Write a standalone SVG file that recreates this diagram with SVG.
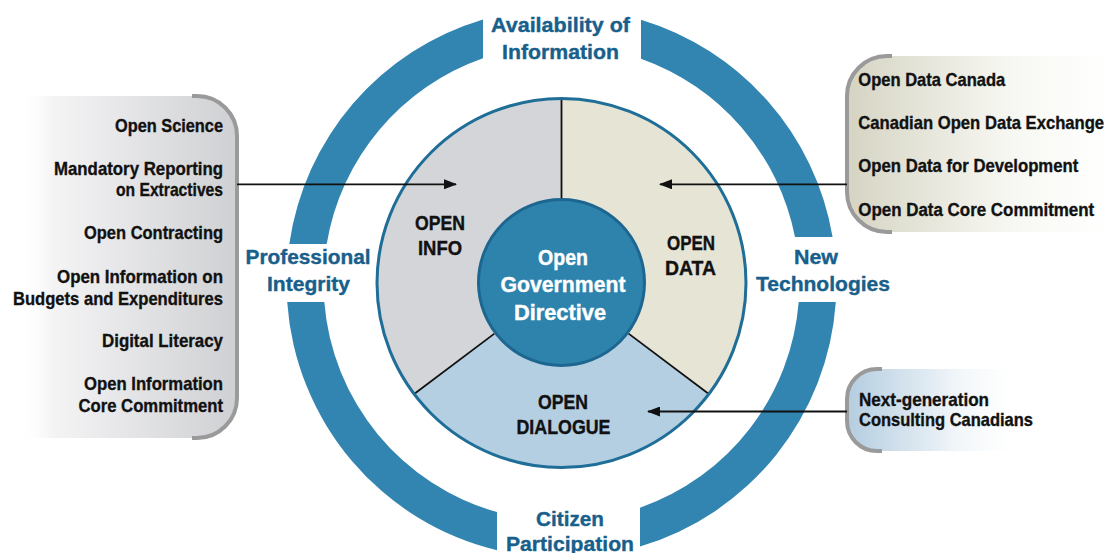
<svg xmlns="http://www.w3.org/2000/svg" width="1107" height="553" viewBox="0 0 1107 553">
<style>
.t{font-family:"Liberation Sans Narrow","Arial Narrow","Liberation Sans",Arial,sans-serif;font-weight:bold}
.ring{fill:#3285b0}
.rl{fill:#185f8b;font-size:21px;text-anchor:middle;stroke:#185f8b;stroke-width:0.4}
.pl{fill:#111;font-size:21px;text-anchor:middle;stroke:#111;stroke-width:0.4}
.cl{fill:#fff;font-size:21.5px;text-anchor:middle;stroke:#fff;stroke-width:0.4}
.lt{fill:#111;font-size:18.5px;text-anchor:end;stroke:#111;stroke-width:0.35}
.rt{fill:#111;font-size:18.5px;stroke:#111;stroke-width:0.35}
.brk{fill:none;stroke:#9a9a9a;stroke-width:4}
.con{stroke:#111;stroke-width:1.8;fill:none}
.div{stroke:#111;stroke-width:1.8}
</style>
<defs>
<linearGradient id="gL" x1="0" y1="0" x2="1" y2="0">
<stop offset="0" stop-color="#ffffff" stop-opacity="0"/>
<stop offset="0.15" stop-color="#f4f4f5"/>
<stop offset="1" stop-color="#cfd0d3"/>
</linearGradient>
<linearGradient id="gR" x1="0" y1="0" x2="1" y2="0">
<stop offset="0" stop-color="#d5d4c3"/>
<stop offset="0.6" stop-color="#f6f6f1"/>
<stop offset="1" stop-color="#ffffff"/>
</linearGradient>
<linearGradient id="gB" x1="0" y1="0" x2="1" y2="0">
<stop offset="0" stop-color="#b4cde0"/>
<stop offset="0.7" stop-color="#f3f7fa"/>
<stop offset="1" stop-color="#ffffff"/>
</linearGradient>
<marker id="ah" markerUnits="userSpaceOnUse" markerWidth="13" markerHeight="10" refX="12" refY="5" orient="auto">
<path d="M0,0 L13,5 L0,10 Z" fill="#111"/>
</marker>
</defs>
<rect width="1107" height="553" fill="#fff"/>

<g id="ring">
<path class="ring" d="M289.3,244 A275 275 0 0 1 483,19.4 L483,58.3 A238 238 0 0 0 326.7,244 Z"/>
<path class="ring" d="M641,19.7 A275 275 0 0 1 832.6,237 L795,237 A238 238 0 0 0 641,58.7 Z"/>
<path class="ring" d="M835.8,302 A275 275 0 0 1 640,546.6 L640,507.7 A238 238 0 0 0 798.7,302 Z"/>
<path class="ring" d="M497,550.3 A275 275 0 0 1 287.2,302 L324.3,302 A238 238 0 0 0 497,512.1 Z"/>
</g>
<g id="label-availability">
<text class="t rl" x="560.5" y="31.5" textLength="139" lengthAdjust="spacingAndGlyphs">Availability of</text>
<text class="t rl" x="560.5" y="59" textLength="117" lengthAdjust="spacingAndGlyphs">Information</text>
</g>
<g id="label-citizen">
<text class="t rl" x="570" y="526" textLength="68" lengthAdjust="spacingAndGlyphs">Citizen</text>
<text class="t rl" x="570" y="551" textLength="128" lengthAdjust="spacingAndGlyphs">Participation</text>
</g>
<g id="label-professional">
<text class="t rl" x="308" y="263.5" textLength="125" lengthAdjust="spacingAndGlyphs">Professional</text>
<text class="t rl" x="308.5" y="291" textLength="83" lengthAdjust="spacingAndGlyphs">Integrity</text>
</g>
<g id="label-newtech">
<text class="t rl" x="816" y="263.5" textLength="44" lengthAdjust="spacingAndGlyphs">New</text>
<text class="t rl" x="823" y="291" textLength="134" lengthAdjust="spacingAndGlyphs">Technologies</text>
</g>

<g id="open-info">
<path d="M561.5,283 L413.8,394.3 A185 185 0 0 1 561.5,98 Z" fill="#d4d5d8"/>
<text class="t pl" x="440" y="230" textLength="50" lengthAdjust="spacingAndGlyphs">OPEN</text>
<text class="t pl" x="440" y="254.5" textLength="44" lengthAdjust="spacingAndGlyphs">INFO</text>
</g>
<g id="open-data">
<path d="M561.5,283 L561.5,98 A185 185 0 0 1 709.2,394.3 Z" fill="#e6e4d5"/>
<text class="t pl" x="691" y="250" textLength="48" lengthAdjust="spacingAndGlyphs">OPEN</text>
<text class="t pl" x="690.5" y="275" textLength="51" lengthAdjust="spacingAndGlyphs">DATA</text>
</g>
<g id="open-dialogue">
<path d="M561.5,283 L709.2,394.3 A185 185 0 0 1 413.8,394.3 Z" fill="#b5cfe2"/>
<text class="t pl" x="563" y="409" textLength="50" lengthAdjust="spacingAndGlyphs">OPEN</text>
<text class="t pl" x="563.5" y="433.5" textLength="94" lengthAdjust="spacingAndGlyphs">DIALOGUE</text>
</g>
<g id="dividers">
<line class="div" x1="561.5" y1="199" x2="561.5" y2="98"/>
<line class="div" x1="628.6" y1="333.6" x2="709.2" y2="394.3"/>
<line class="div" x1="494.4" y1="333.6" x2="413.8" y2="394.3"/>
<circle cx="561.5" cy="283" r="184.5" fill="none" stroke="#1f6e98" stroke-width="3"/>
</g>
<g id="center">
<circle cx="561.5" cy="282.5" r="83" fill="#2e83ad" stroke="#1d6690" stroke-width="3"/>
<text class="t cl" x="563" y="265" textLength="50" lengthAdjust="spacingAndGlyphs">Open</text>
<text class="t cl" x="563" y="292" textLength="125" lengthAdjust="spacingAndGlyphs">Government</text>
<text class="t cl" x="560" y="320" textLength="92" lengthAdjust="spacingAndGlyphs">Directive</text>
</g>

<g id="panel-left">
<path d="M20,96 L197,96 A40 40 0 0 1 237,136 L237,398 A40 40 0 0 1 197,438 L20,438 Z" fill="url(#gL)"/>
<path class="brk" d="M192,96 L197,96 A40 40 0 0 1 237,136 L237,398 A40 40 0 0 1 197,438 L192,438"/>
<text class="t lt" x="223" y="132" textLength="108" lengthAdjust="spacingAndGlyphs">Open Science</text>
<text class="t lt" x="223" y="175" textLength="169" lengthAdjust="spacingAndGlyphs">Mandatory Reporting</text>
<text class="t lt" x="223" y="195.5" textLength="107" lengthAdjust="spacingAndGlyphs">on Extractives</text>
<text class="t lt" x="223" y="239" textLength="139" lengthAdjust="spacingAndGlyphs">Open Contracting</text>
<text class="t lt" x="223" y="283" textLength="166" lengthAdjust="spacingAndGlyphs">Open Information on</text>
<text class="t lt" x="223" y="304.5" textLength="210" lengthAdjust="spacingAndGlyphs">Budgets and Expenditures</text>
<text class="t lt" x="223" y="347" textLength="121" lengthAdjust="spacingAndGlyphs">Digital Literacy</text>
<text class="t lt" x="223" y="390" textLength="139" lengthAdjust="spacingAndGlyphs">Open Information</text>
<text class="t lt" x="223" y="411.5" textLength="144.5" lengthAdjust="spacingAndGlyphs">Core Commitment</text>
</g>
<g id="panel-data">
<path d="M887,56 L1107,56 L1107,232 L887,232 A40 40 0 0 1 847,192 L847,96 A40 40 0 0 1 887,56 Z" fill="url(#gR)"/>
<path class="brk" d="M892,56 L887,56 A40 40 0 0 0 847,96 L847,192 A40 40 0 0 0 887,232 L892,232"/>
<text class="t rt" x="858.3" y="85.5" textLength="147" lengthAdjust="spacingAndGlyphs">Open Data Canada</text>
<text class="t rt" transform="translate(858.3 129) scale(0.9 1)" x="0" y="0">Canadian Open Data Exchange</text>
<text class="t rt" x="858.3" y="172" textLength="220" lengthAdjust="spacingAndGlyphs">Open Data for Development</text>
<text class="t rt" transform="translate(858.3 215.5) scale(0.915 1)" x="0" y="0">Open Data Core Commitment</text>
</g>
<g id="panel-dialogue">
<path d="M877,369 L1010,369 L1010,451 L877,451 A30 30 0 0 1 847,421 L847,399 A30 30 0 0 1 877,369 Z" fill="url(#gB)"/>
<path class="brk" d="M882,369 L877,369 A30 30 0 0 0 847,399 L847,421 A30 30 0 0 0 877,451 L882,451"/>
<text class="t rt" x="859" y="406" textLength="130" lengthAdjust="spacingAndGlyphs">Next-generation</text>
<text class="t rt" x="859" y="426" textLength="174" lengthAdjust="spacingAndGlyphs">Consulting Canadians</text>
</g>

<g id="connectors">
<line class="con" x1="237" y1="184.3" x2="456" y2="184.3" marker-end="url(#ah)"/>
<line class="con" x1="847" y1="184.3" x2="660" y2="184.3" marker-end="url(#ah)"/>
<line class="con" x1="847" y1="411.5" x2="648" y2="411.5" marker-end="url(#ah)"/>
</g>
</svg>
